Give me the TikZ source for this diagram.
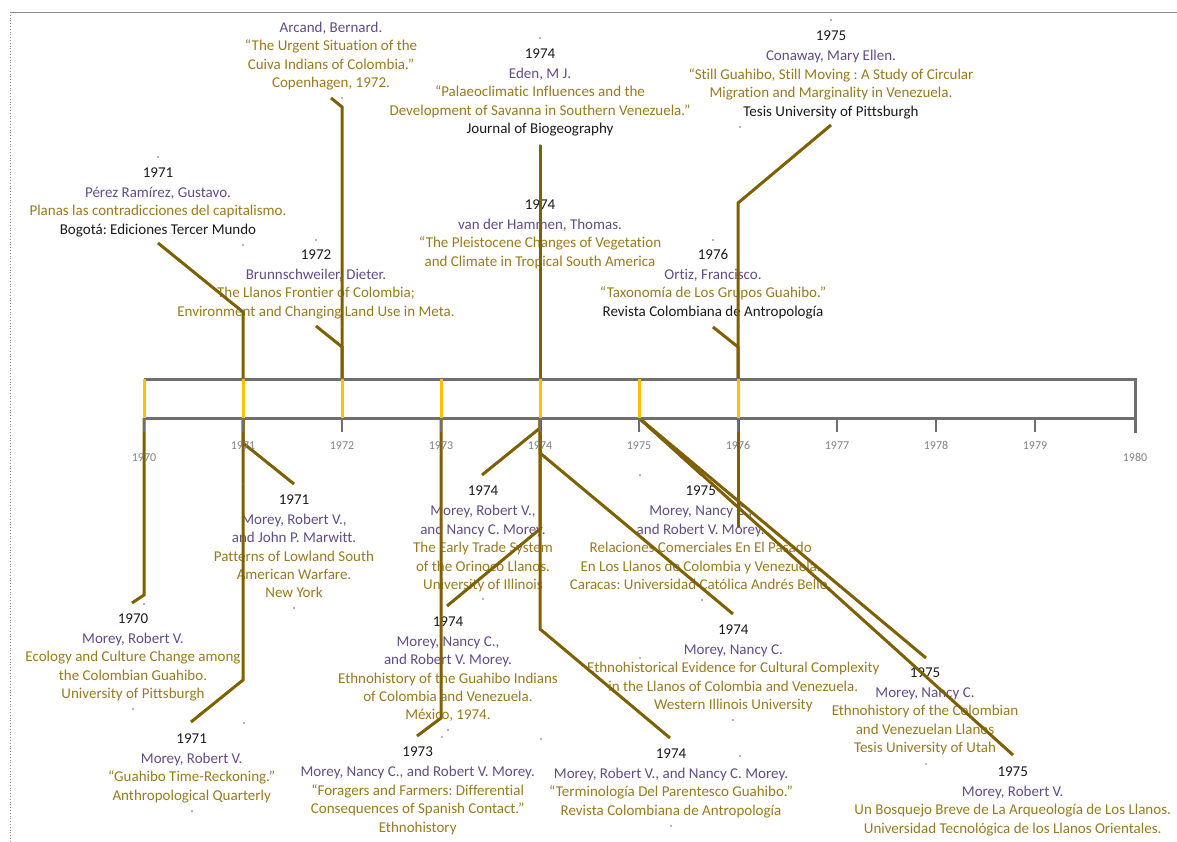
\documentclass[tikz,border=0pt]{standalone}
\usepackage{fontspec}
\setmainfont{Carlito}[Ligatures=NoCommon]
\definecolor{conncol}{HTML}{7F6000}
\definecolor{axiscol}{HTML}{6F6F6F}
\definecolor{yelcol}{HTML}{FFC000}
\definecolor{aucol}{HTML}{634C86}
\definecolor{goldcol}{HTML}{987A1E}
\definecolor{yrcol}{HTML}{1A1A1A}
\definecolor{lblcol}{HTML}{808080}
\definecolor{dotcol}{HTML}{6A6A8A}
\definecolor{framecol}{HTML}{8C8C8C}
\newcommand\entYr[1]{\rule{0pt}{14pt}{\color{yrcol}#1}}
\newcommand\entAu[1]{{\color{aucol}#1}}
\newcommand\entBk[1]{{\color{yrcol}#1}}
\frenchspacing
\begin{document}
\begin{tikzpicture}[x=1pt,y=-1pt,
  entry/.style={align=center, inner sep=0pt, anchor=north, text=goldcol,
    font=\fontsize{15}{18.4}\selectfont\frenchspacing},
  conn/.style={draw=conncol, line width=3pt},
  axisline/.style={draw=axiscol, line width=3pt},
  yelseg/.style={draw=yelcol, line width=3pt},
  tick/.style={draw=axiscol, line width=2.5pt},
  yearlbl/.style={text=lblcol, anchor=base, inner sep=0pt, font=\fontsize{12}{14}\selectfont},
  anchordot/.style={fill=dotcol}]
\useasboundingbox (0,0) rectangle (1177,841);
% frame
\draw[framecol, line width=0.8pt] (10,12) -- (1177,12);
\draw[framecol, line width=0.8pt, dotted] (10,12) -- (10,841);

% axis coordinates
\foreach \yr/\xx in {1970/144,1971/243,1972/342,1973/441,1974/540,1975/639,1976/738,1977/837,1978/936,1979/1035,1980/1135}{
  \coordinate (t\yr) at (\xx,379);
  \coordinate (b\yr) at (\xx,418);
  \coordinate (k\yr) at (\xx,432);
}

% ---------- entries above ----------
\node[entry] (arcand) at (331,18.3) {\rule{0pt}{14pt}\entAu{Arcand, Bernard.}\\“The Urgent Situation of the\\Cuiva Indians of Colombia.”\\Copenhagen, 1972.};
\node[entry] (perez) at (158,163.3) {\entYr{1971}\\[1.6pt]\entAu{Pérez Ramírez, Gustavo.}\\Planas las contradicciones del capitalismo.\\\entBk{Bogotá: Ediciones Tercer Mundo}};
\node[entry] (brunn) at (316,245.3) {\entYr{1972}\\[1.6pt]\entAu{Brunnschweiler, Dieter.}\\The Llanos Frontier of Colombia;\\Environment and Changing Land Use in Meta.};
\node[entry] (eden) at (540,44.3) {\entYr{1974}\\[1.6pt]\entAu{Eden, M J.}\\“Palaeoclimatic Influences and the\\Development of Savanna in Southern Venezuela.”\\\entBk{Journal of Biogeography}};
\node[entry] (vdh) at (540,195.3) {\entYr{1974}\\[1.6pt]\entAu{van der Hammen, Thomas.}\\“The Pleistocene Changes of Vegetation\\and Climate in Tropical South America};
\node[entry] (conaway) at (831,26.7) {\entYr{1975}\\[1.6pt]\entAu{Conaway, Mary Ellen.}\\“Still Guahibo, Still Moving : A Study of Circular\\Migration and Marginality in Venezuela.\\\entBk{Tesis University of Pittsburgh}};
\node[entry] (ortiz) at (713,245.3) {\entYr{1976}\\[1.6pt]\entAu{Ortiz, Francisco.}\\“Taxonomía de Los Grupos Guahibo.”\\\entBk{Revista Colombiana de Antropología}};

% ---------- entries below ----------
\node[entry] (e1970) at (133,609.3) {\entYr{1970}\\[1.6pt]\entAu{Morey, Robert V.}\\Ecology and Culture Change among\\the Colombian Guahibo.\\University of Pittsburgh};
\node[entry] (marwitt) at (294,490) {\entYr{1971}\\[1.6pt]\entAu{Morey, Robert V.,}\\\entAu{and John P. Marwitt.}\\Patterns of Lowland South\\American Warfare.\\New York};
\node[entry] (timereck) at (191.7,729.3) {\entYr{1971}\\[1.6pt]\entAu{Morey, Robert V.}\\“Guahibo Time-Reckoning.”\\Anthropological Quarterly};
\node[entry] (trade) at (483,481.7) {\entYr{1974}\\[1.6pt]\entAu{Morey, Robert V.,}\\\entAu{and Nancy C. Morey.}\\The Early Trade System\\of the Orinoco Llanos.\\University of Illinois};
\node[entry] (ethgua) at (448,612) {\entYr{1974}\\[1.6pt]\entAu{Morey, Nancy C.,}\\\entAu{and Robert V. Morey.}\\Ethnohistory of the Guahibo Indians\\of Colombia and Venezuela.\\México, 1974.};
\node[entry] (e1973) at (417.7,742.7) {\entYr{1973}\\[1.6pt]\entAu{Morey, Nancy C., and Robert V. Morey.}\\“Foragers and Farmers: Differential\\Consequences of Spanish Contact.”\\Ethnohistory};
\node[entry] (relac) at (700.7,481.7) {\entYr{1975}\\[1.6pt]\entAu{Morey, Nancy C.,}\\\entAu{and Robert V. Morey.}\\Relaciones Comerciales En El Pasado\\En Los Llanos de Colombia y Venezuela.\\Caracas: Universidad Católica Andrés Bello.};
\node[entry] (evid) at (733.3,620.3) {\entYr{1974}\\[1.6pt]\entAu{Morey, Nancy C.}\\Ethnohistorical Evidence for Cultural Complexity\\in the Llanos of Colombia and Venezuela.\\Western Illinois University};
\node[entry] (termin) at (671,744.3) {\entYr{1974}\\[1.6pt]\entAu{Morey, Robert V., and Nancy C. Morey.}\\“Terminología Del Parentesco Guahibo.”\\Revista Colombiana de Antropología};
\node[entry] (utah) at (925,663.3) {\entYr{1975}\\[1.6pt]\entAu{Morey, Nancy C.}\\Ethnohistory of the Colombian\\and Venezuelan Llanos\\Tesis University of Utah};
\node[entry] (bosq) at (1012.7,762) {\entYr{1975}\\[1.6pt]\entAu{Morey, Robert V.}\\Un Bosquejo Breve de La Arqueología de Los Llanos.\\Universidad Tecnológica de los Llanos Orientales.};

% ---------- connector free ends ----------
\coordinate (cArc) at (331,98);
\coordinate (cPer) at (158,243);
\coordinate (cBru) at (316,326);
\coordinate (cEde) at (540,145);
\coordinate (cVdh) at (540,276);
\coordinate (cCon) at (831,125);
\coordinate (cOrt) at (713,327);
\coordinate (c1970) at (132,603);
\coordinate (cMar) at (294,484);
\coordinate (cTim) at (191,722);
\coordinate (cTra) at (482,475);
\coordinate (cEth) at (447,606);
\coordinate (cEvi) at (733,614);
\coordinate (cTer) at (670,738);
\coordinate (c1973) at (417,736);
\coordinate (cRel) at (702,475);
\coordinate (cUta) at (926,658);
\coordinate (cBos) at (1013,755);
\coordinate (c1976low) at (738,527);

% ---------- connectors ----------
\draw[conn] (cArc) -- (342,107) -- (t1972);
\draw[conn] (cPer) -- (243,312) -- (t1971);
\draw[conn] (cBru) -- (342,347) -- (t1972);
\draw[conn] (cEde) -- (t1974);
\draw[conn] (cVdh) -- (t1974);
\draw[conn] (cCon) -- (738,203) -- (t1976);
\draw[conn] (cOrt) -- (738,347) -- (t1976);
\draw[conn] (b1970) -- (144,595) -- (c1970);
\draw[conn] (b1971) -- (243,443) -- (cMar);
\draw[conn] (b1971) -- (243,680) -- (cTim);
\draw[conn] (b1974) -- (540,428) -- (cTra);
\draw[conn] (b1974) -- (540,529) -- (cEth);
\draw[conn] (b1974) -- (540,453) -- (cEvi);
\draw[conn] (b1974) -- (540,629) -- (cTer);
\draw[conn] (b1973) -- (441,718) -- (c1973);
\draw[conn] (b1975) -- (cRel);
\draw[conn] (b1975) -- (cUta);
\draw[conn] (b1975) -- (cBos);
\draw[conn] (b1976) -- (c1976low);

% ---------- axis ----------
\foreach \yr in {1970,1971,1972,1973,1974,1975,1976,1977,1978,1979}{
  \draw[tick] (b\yr) -- (k\yr);
}
\draw[axisline] (t1970) -- (t1980) -- (1135,433);
\draw[axisline] (b1970) -- (b1980);
\foreach \yr in {1970,1971,1972,1973,1974,1975,1976}{
  \draw[yelseg] (t\yr) -- (b\yr);
}
% axis labels
\node[yearlbl] (l1970) at (144,461) {1970};
\foreach \yr/\xx in {1971/243,1972/342,1973/441,1974/540,1975/639,1976/738,1977/837,1978/936,1979/1035}{
  \node[yearlbl] (l\yr) at (\xx,449.5) {\yr};
}
\node[yearlbl] (l1980) at (1135,461) {1980};

% ---------- small anchor dots ----------
\foreach \px/\py in {342/98,158/157,243/245,316/240,342/327,540/38,540/145,831/20,740/127,713/240,739/327,
  144/604,133/709,294/608,243/484,244/723,192/811,483/599,442/737,448/730,541/739,640/475,640/658,
  702/600,733/720,740/756,671/826,926/764}{
  \fill[anchordot] (\px,\py) circle (0.9);
}
\end{tikzpicture}
\end{document}
